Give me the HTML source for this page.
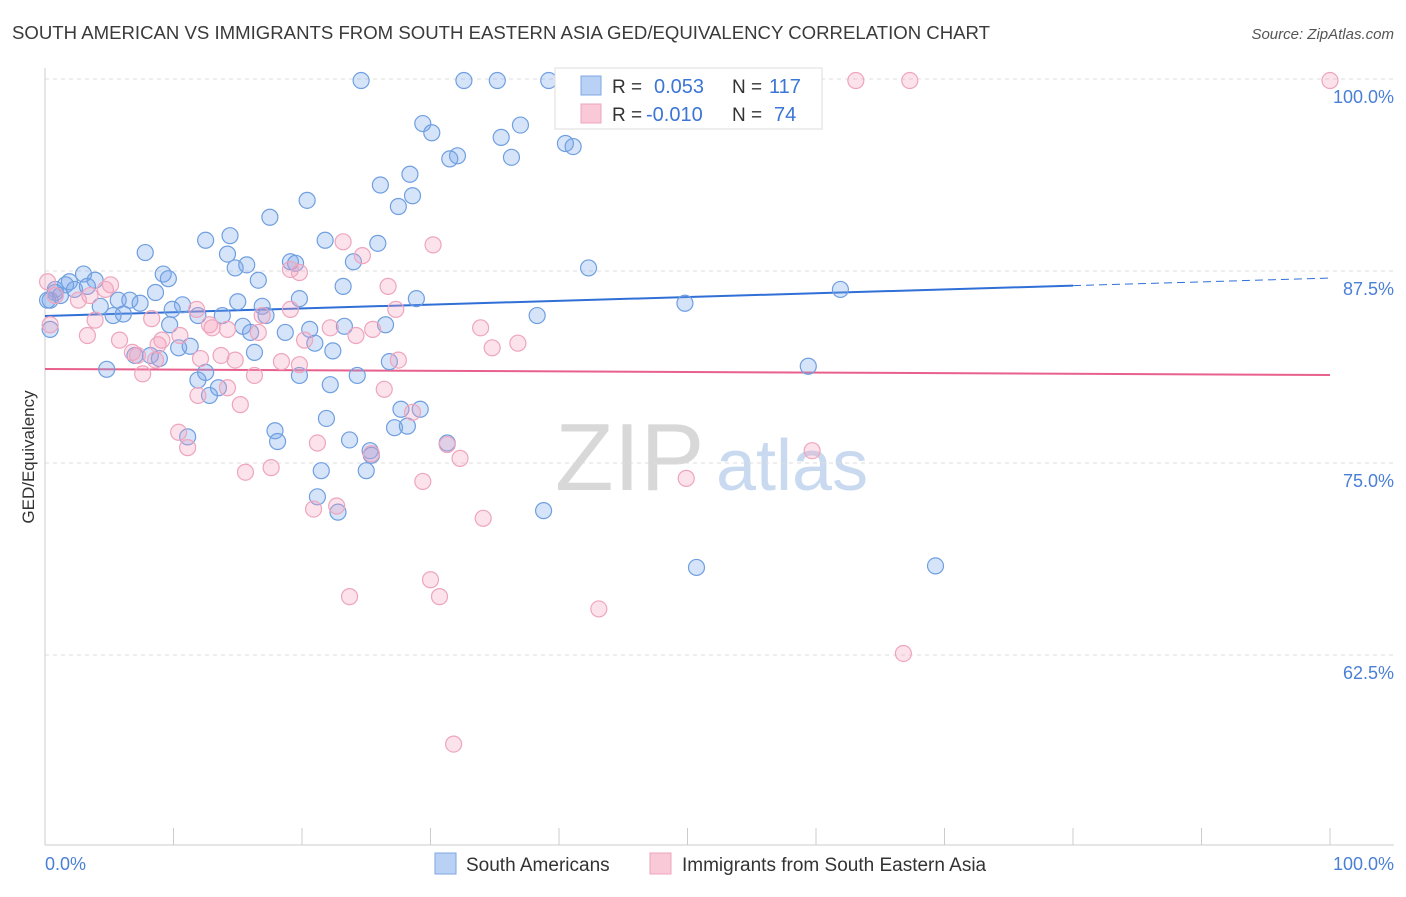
<!DOCTYPE html>
<html><head><meta charset="utf-8"><style>
body{margin:0;background:#fff;font-family:"Liberation Sans",sans-serif}
svg text{font-family:"Liberation Sans",sans-serif}
</style></head><body>
<svg id="chart" width="1406" height="892" xmlns="http://www.w3.org/2000/svg">
<text x="12" y="39" font-size="18" fill="#3a3a3a" textLength="978" lengthAdjust="spacingAndGlyphs">SOUTH AMERICAN VS IMMIGRANTS FROM SOUTH EASTERN ASIA GED/EQUIVALENCY CORRELATION CHART</text>
<text x="1394" y="39" font-size="15" fill="#555" text-anchor="end" font-style="italic">Source: ZipAtlas.com</text>
<g>
<text x="555" y="490" font-size="96" fill="#d8d8d8" font-family="Liberation Serif,serif">ZIP</text>
<text x="716" y="490" font-size="72" fill="#c9daf0">atlas</text>
</g>
<g id="grid"></g>
<g id="axes"></g>
<g id="trends"></g>
<g id="points"></g>
<text transform="translate(34,457) rotate(-90)" font-size="17" fill="#333" text-anchor="middle">GED/Equivalency</text>
<text x="45" y="870" font-size="18" fill="#4a7fd6">0.0%</text>
<text x="1394" y="870" font-size="18" fill="#4a7fd6" text-anchor="end">100.0%</text>
<g>
<rect x="555" y="68" width="267" height="61" fill="#fff" stroke="#ddd"/>
<rect x="581" y="76" width="20" height="19" fill="#b9d1f5" stroke="#7fa6e3"/>
<rect x="581" y="104" width="20" height="19" fill="#f9c9d8" stroke="#eea5bd"/>
<text x="612" y="93" font-size="19" fill="#333">R =</text>
<text x="654" y="93" font-size="20" fill="#3b75d6">0.053</text>
<text x="732" y="93" font-size="19" fill="#333">N =</text>
<text x="769" y="93" font-size="20" fill="#3b75d6">117</text>
<text x="612" y="121" font-size="19" fill="#333">R =</text>
<text x="646" y="121" font-size="20" fill="#3b75d6">-0.010</text>
<text x="732" y="121" font-size="19" fill="#333">N =</text>
<text x="774" y="121" font-size="20" fill="#3b75d6">74</text>
</g>
<g>
<rect x="435" y="853" width="21" height="21" fill="#b9d1f5" stroke="#7fa6e3"/>
<text x="466" y="871" font-size="19" fill="#333">South Americans</text>
<rect x="650" y="853" width="21" height="21" fill="#f9c9d8" stroke="#eea5bd"/>
<text x="682" y="871" font-size="19" fill="#333">Immigrants from South Eastern Asia</text>
</g>
</svg>
<script>
const yTicks=[100,87.5,75,62.5];
const yTickLabels=["100.0%","87.5%","75.0%","62.5%"];
const xTicks=[0,10,20,30,40,50,60,70,80,90,100];
const blueX=[24.6,32.6,35.2,39.2,29.4,30.1,37.0,35.5,32.1,31.5,36.3,40.5,41.1,26.1,28.4,28.6,27.5,20.4,17.5,14.4,12.5,7.8,14.2,14.8,15.7,16.6,19.1,19.5,21.8,24.0,25.9,23.2,42.3,9.2,9.6,3.0,3.9,1.9,0.8,1.2,1.6,2.3,3.3,4.3,5.7,6.6,7.4,8.6,10.7,9.9,5.3,6.1,15.0,16.9,17.2,19.8,20.6,21.0,22.4,23.3,26.5,28.9,38.3,49.8,61.9,11.9,13.8,15.4,16.0,18.7,9.7,4.8,7.0,8.2,8.9,10.4,11.3,16.3,11.9,12.5,13.5,12.8,19.8,22.2,24.3,26.8,27.7,29.2,27.2,28.2,21.9,23.7,17.9,18.1,25.3,25.4,31.3,25.0,21.5,21.2,22.8,38.8,50.7,69.3,59.4,11.1,0.4,0.4,0.8,0.2];
const blueY=[99.9,99.9,99.9,99.9,97.1,96.5,97.0,96.2,95.0,94.8,94.9,95.8,95.6,93.1,93.8,92.4,91.7,92.1,91.0,89.8,89.5,88.7,88.6,87.7,87.9,86.9,88.1,88.0,89.5,88.1,89.3,86.5,87.7,87.3,87.0,87.3,86.9,86.8,86.3,85.9,86.6,86.3,86.5,85.2,85.6,85.6,85.4,86.1,85.3,85.0,84.6,84.7,85.5,85.2,84.6,85.7,83.7,82.8,82.3,83.9,84.0,85.7,84.6,85.4,86.3,84.6,84.6,83.9,83.5,83.5,84.0,81.1,82.0,82.0,81.8,82.5,82.6,82.2,80.4,80.9,79.9,79.4,80.7,80.1,80.7,81.6,78.5,78.5,77.3,77.4,77.9,76.5,77.1,76.4,75.8,75.5,76.3,74.5,74.5,72.8,71.8,71.9,68.2,68.3,81.3,76.7,85.6,83.7,86.1,85.6];
const pinkX=[63.1,67.3,100,23.2,24.7,30.2,19.1,19.8,26.7,27.3,19.1,16.9,12.8,14.2,8.3,5.1,3.5,0.2,0.8,2.6,3.3,3.9,5.8,6.8,8.8,9.1,10.5,11.8,13.0,13.7,14.8,16.6,18.4,20.2,22.2,24.2,25.5,27.5,33.9,34.8,36.8,7.6,8.6,12.1,11.9,14.2,15.2,16.3,19.8,26.4,28.6,31.3,32.3,10.4,11.1,15.6,17.6,21.2,20.9,22.7,25.4,29.4,34.1,30.0,30.7,23.7,43.1,49.9,59.7,66.8,31.8,7.2,4.7,0.4];
const pinkY=[99.9,99.9,99.9,89.4,88.5,89.2,87.6,87.4,86.5,85.0,85.0,84.6,84.0,83.7,84.4,86.6,85.9,86.8,85.9,85.6,83.3,84.3,83.0,82.2,82.7,83.0,83.3,85.0,83.8,82.0,81.7,83.5,81.6,83.0,83.8,83.3,83.7,81.7,83.8,82.5,82.8,80.8,81.7,81.8,79.4,79.9,78.8,80.7,81.4,79.8,78.3,76.2,75.3,77.0,76.0,74.4,74.7,76.3,72.0,72.2,75.6,73.8,71.4,67.4,66.3,66.3,65.5,74.0,75.8,62.6,56.7,82.0,86.3,84.0];
const blueTrend=[84.57,87.04];
const pinkTrend=[81.12,80.73];
const NS="http://www.w3.org/2000/svg";
const xs=v=>45+v*12.85, ys=v=>79+(100-v)*15.36;
function mk(t,a,p){const e=document.createElementNS(NS,t);for(const k in a)e.setAttribute(k,a[k]);p.appendChild(e);return e;}
const grid=document.getElementById('grid'),axes=document.getElementById('axes');
yTicks.forEach((t,i)=>{
 const l=mk('line',{x1:45,x2:1394,y1:ys(t),y2:ys(t),stroke:'#ddd','stroke-dasharray':'4,4'},grid);
 
 
 const tx=mk('text',{x:1394,y:ys(t)+24,'font-size':18,fill:'#4a7fd6','text-anchor':'end'},axes);
 tx.textContent=yTickLabels[i];
 
 
});
const xa=mk('line',{x1:45,x2:1394,y1:845,y2:845,stroke:'#ccc'},axes);


const ya=mk('line',{x1:45,x2:45,y1:68,y2:845,stroke:'#ccc'},axes);


xTicks.forEach(t=>{const k=mk('line',{x1:xs(t),x2:xs(t),y1:828,y2:845,stroke:'#ccc'},axes);
 
 });
const pts=document.getElementById('points');
function drawPts(X,Y,fill,stroke,name){X.forEach((x,i)=>{const c=mk('circle',{cx:xs(x),cy:ys(Y[i]),r:8,fill:fill,stroke:stroke,'stroke-width':1.2},pts);
 
 });}
drawPts(blueX,blueY,'rgba(120,165,235,0.3)','#6f9fe0','south-american-point');
drawPts(pinkX,pinkY,'rgba(245,160,190,0.3)','#eea5bd','se-asia-point');
const tr=document.getElementById('trends');
const by=x=>blueTrend[0]+(blueTrend[1]-blueTrend[0])*x/100;
const b1=mk('line',{x1:xs(0),y1:ys(by(0)),x2:xs(80),y2:ys(by(80)),stroke:'#2f6fd6','stroke-width':2},tr);


const b2=mk('line',{x1:xs(80),y1:ys(by(80)),x2:xs(100),y2:ys(by(100)),stroke:'#2f6fd6','stroke-width':1,'stroke-dasharray':'8,5'},tr);


const p1=mk('line',{x1:xs(0),y1:ys(pinkTrend[0]),x2:xs(100),y2:ys(pinkTrend[1]),stroke:'#e8608c','stroke-width':2},tr);


</script>
</body></html>
